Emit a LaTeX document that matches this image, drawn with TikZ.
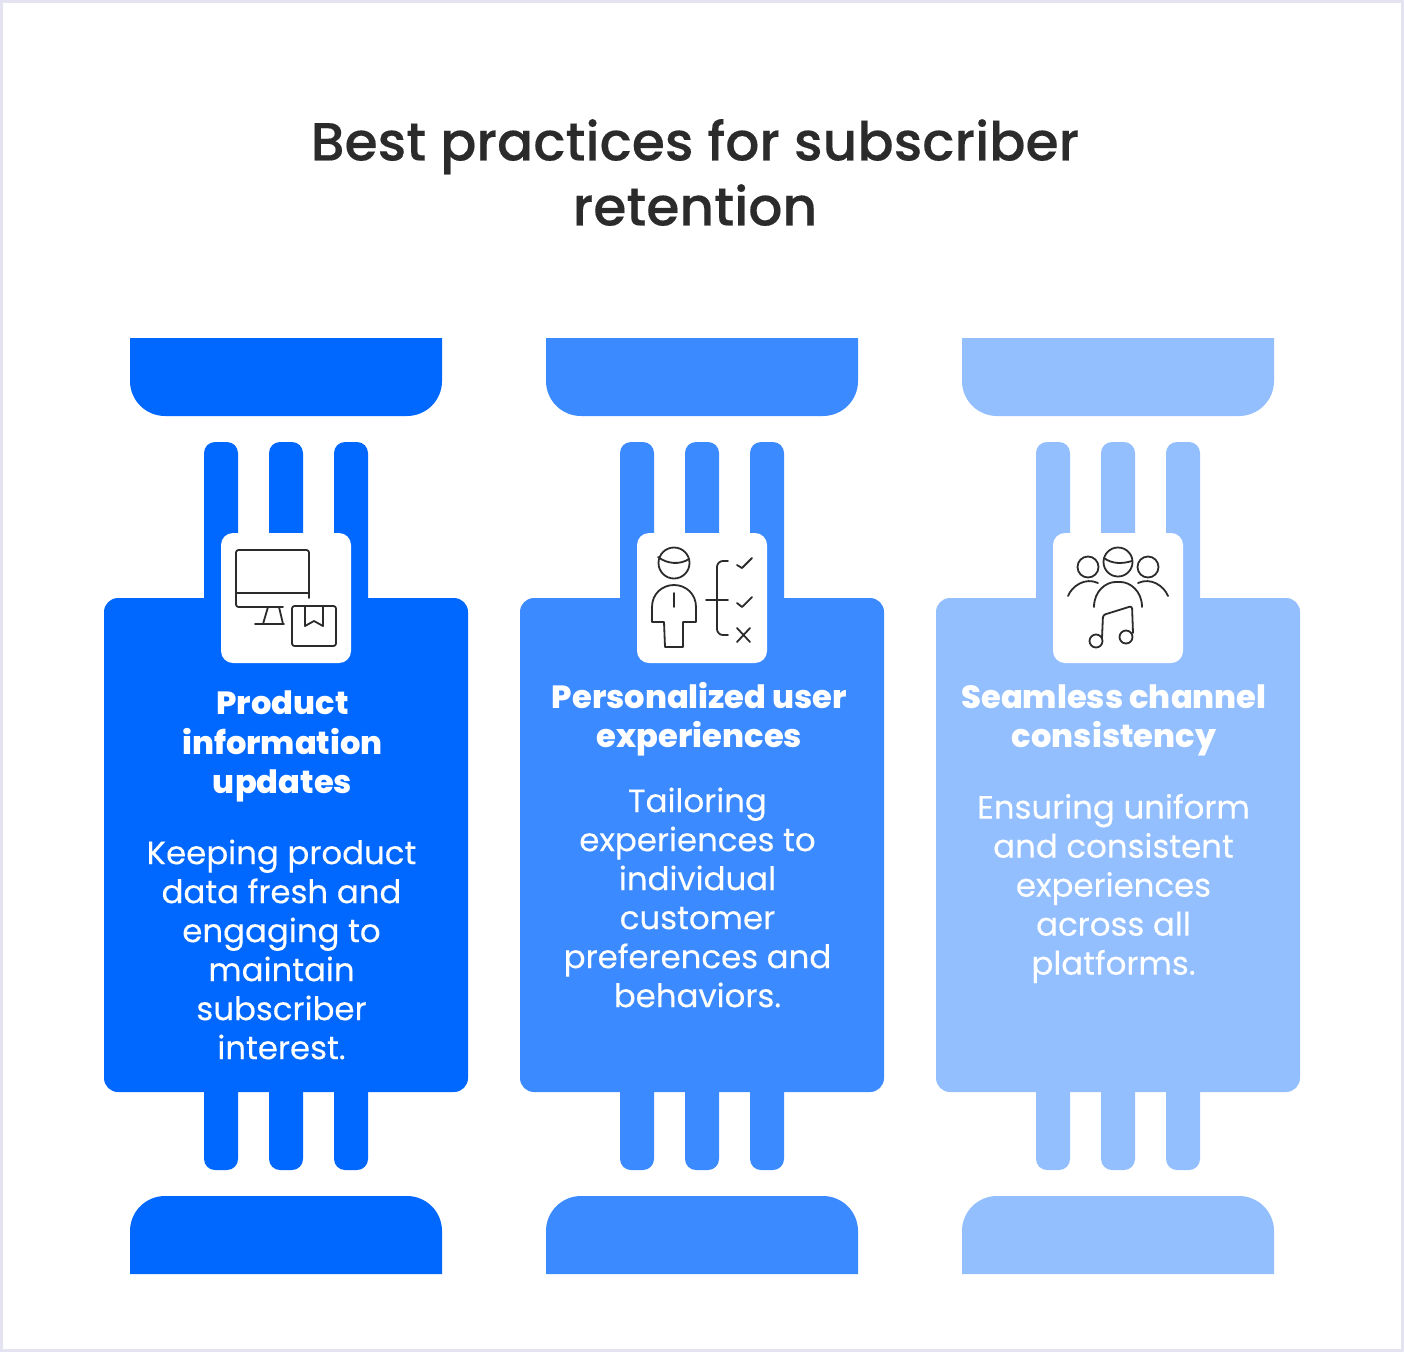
\documentclass[tikz,border=0pt]{standalone}
\usepackage{fontspec}
\setmainfont{Poppins}
\newfontfamily\titlefont[FakeBold=0.25]{Poppins Medium}
\newfontfamily\headfont{Poppins ExtraBold}
\newfontfamily\bodyfont[FakeBold=0.2]{Poppins}
\usetikzlibrary{positioning}
\definecolor{frameline}{HTML}{E3E3F1}
\definecolor{blueA}{HTML}{0068FF}
\definecolor{blueB}{HTML}{3B8AFF}
\definecolor{blueC}{HTML}{93BFFF}
\definecolor{inkgray}{HTML}{2B2B2B}

\begin{document}
\begin{tikzpicture}[
  x=1pt,y=-1pt,
  panel/.style={rectangle, minimum width=364pt, minimum height=494pt, inner sep=0pt, rounded corners=14pt},
  iconcard/.style={rectangle, minimum width=130pt, minimum height=130pt, inner sep=0pt, fill=white, rounded corners=12pt},
  heading/.style={align=center, text=white, inner sep=0pt, font=\headfont\fontsize{32.1}{39.2}\selectfont},
  bodytext/.style={align=center, text=white, inner sep=0pt, font=\bodyfont\fontsize{32.4}{39}\selectfont},
  icon/.style={draw=inkgray, line width=1.8pt, line cap=round, line join=round, rounded corners=2.5pt}
]
\useasboundingbox (0,0) rectangle (1404,1352);
\fill[frameline] (0,0) rectangle (1404,1352);
\fill[white] (3,3) rectangle (1401,1349);

\node[align=center, text=inkgray, inner sep=0pt, font=\titlefont\fontsize{53.6}{65}\selectfont] (title) at (695,172.5) {Best practices for subscriber\\retention};

\foreach \col/\shift/\tone in {a/0/blueA,b/416/blueB,c/832/blueC} {
  \begin{scope}[xshift=\shift pt, fill=\tone]
    % caps
    \fill (130,338) -- (442,338) [rounded corners=35pt] -- (442,416) -- (130,416) [sharp corners] -- (130,338) -- cycle;
    \fill (130,1274) -- (442,1274) [rounded corners=35pt] -- (442,1196) -- (130,1196) [sharp corners] -- (130,1274) -- cycle;
    % bars
    \foreach \x in {204,269,334} {
      \fill[rounded corners=11pt] (\x,442) rectangle (\x+34,620);
      \fill[rounded corners=11pt] (\x,1070) rectangle (\x+34,1170);
    }
    \node[panel, fill=\tone] (panel\col) at (286,845) {};
    \node[iconcard] (card\col) at (286,598) {};
  \end{scope}
}

% monitor and box
\draw[icon] (309,598) -- (309,550) -- (236,550) -- (236,607) -- (283,607);
\draw[icon,rounded corners=0pt] (236,593) -- (309,593);
\draw[icon,rounded corners=0pt] (268,607) -- (263,624) (279,607) -- (283,624) (255,624) -- (284,624);
\draw[icon] (292,606) rectangle (336,646);
\draw[icon,rounded corners=0pt] (305,606) -- (305,626) -- (314,621) -- (323,626) -- (323,606);

% person and choices
\draw[icon] (674,563) circle (15.5);
\draw[icon] (658,557) .. controls (667,564) and (680,565) .. (689,559);
\draw[icon,rounded corners=0pt] (665,647) -- (664,622) -- (652,622) -- (652,607) .. controls (652,594) and (662,585) .. (674,585) .. controls (686,585) and (696,594) .. (696,607) -- (696,622) -- (683,622) -- (683,647) -- cycle;
\draw[icon,rounded corners=0pt] (674,593) -- (674,607);
\draw[icon,rounded corners=6pt] (728,561) -- (717,561) -- (717,635) -- (728,635);
\draw[icon,rounded corners=0pt] (706,600) -- (728,600);
\draw[icon,rounded corners=0pt] (737,565) -- (742,568) -- (752,558);
\draw[icon,rounded corners=0pt] (737,603) -- (742,607) -- (752,597);
\draw[icon,rounded corners=0pt] (737,628) -- (750,642) (750,628) -- (737,642);

% people and note
\draw[icon] (1118,562) circle (14.5);
\draw[icon] (1104,558) .. controls (1112,564) and (1122,564) .. (1132,561);
\draw[icon] (1088,567) circle (10.5);
\draw[icon] (1148,567) circle (10.5);
\draw[icon] (1068,596) .. controls (1072,586) and (1085,577) .. (1098,583);
\draw[icon] (1168,596) .. controls (1164,586) and (1151,577) .. (1138,583);
\draw[icon] (1094,607) .. controls (1094,591) and (1106,582) .. (1118,582) .. controls (1130,582) and (1142,591) .. (1142,607);
\draw[icon] (1096,641) circle (6.5);
\draw[icon] (1126,637) circle (6.5);
\draw[icon] (1102,638) -- (1103,615) -- (1132,606) -- (1133,633);

\node[heading] (heada) at (282.5,746.5) {Product\\information\\updates};
\node[heading] (headb) at (699.5,719.5) {Personalized user\\experiences};
\node[heading] (headc) at (1114,720) {Seamless channel\\consistency};

\node[bodytext] (bodya) at (281.5,949.5) {Keeping product\\data fresh and\\engaging to\\maintain\\subscriber\\interest.};
\node[bodytext] (bodyb) at (697.5,897.5) {Tailoring\\experiences to\\individual\\customer\\preferences and\\behaviors.};
\node[bodytext] (bodyc) at (1113.5,888.5) {Ensuring uniform\\and consistent\\experiences\\across all\\platforms.};

\end{tikzpicture}
\end{document}
